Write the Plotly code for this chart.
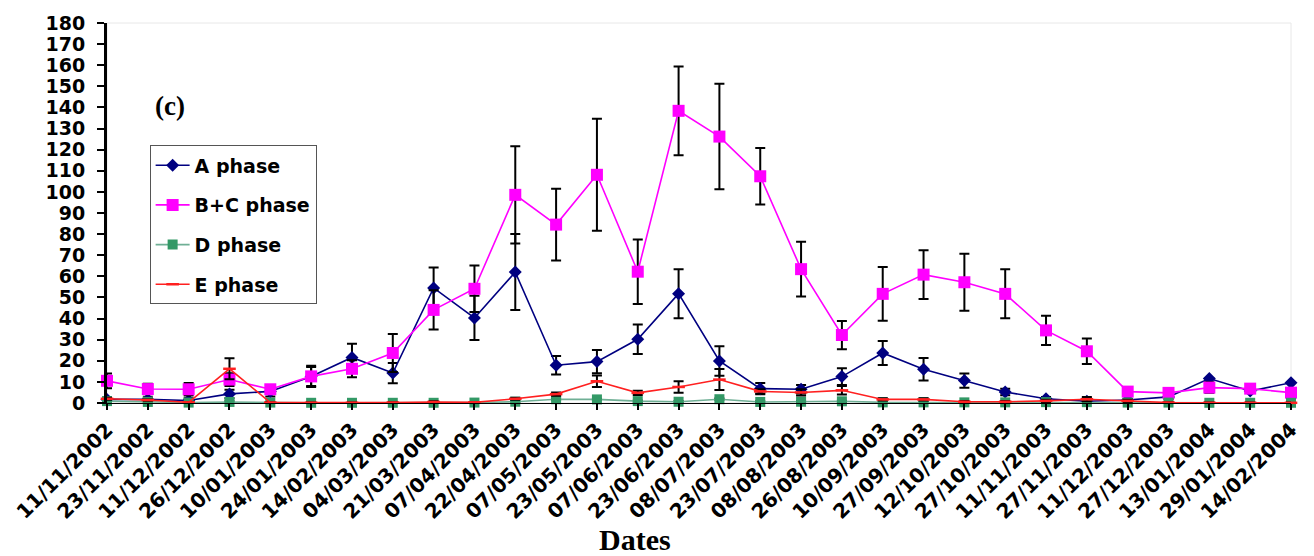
import plotly.graph_objects as go

dates = ["11/11/2002", "23/11/2002", "11/12/2002", "26/12/2002", "10/01/2003",
         "24/01/2003", "14/02/2003", "04/03/2003", "21/03/2003", "07/04/2003",
         "22/04/2003", "07/05/2003", "23/05/2003", "07/06/2003", "23/06/2003",
         "08/07/2003", "23/07/2003", "08/08/2003", "26/08/2003", "10/09/2003",
         "27/09/2003", "12/10/2003", "27/10/2003", "11/11/2003", "27/11/2003",
         "11/12/2003", "27/12/2003", "13/01/2004", "29/01/2004", "14/02/2004"]

a_phase = [1.7, 1.7, 1.2, 4.3, 5.5, 12.6, 21.6, 14.2, 54.5, 40.3,
           62.0, 17.9, 19.6, 30.2, 51.8, 19.9, 6.8, 6.5, 12.5, 23.7,
           16.0, 10.6, 5.2, 2.0, 0.8, 1.4, 2.9, 11.6, 5.7, 9.6]
a_err = [0.5, 1.0, 1.0, 2.0, 2.4, 5.0, 6.5, 4.8, 9.7, 10.5,
         18.0, 4.4, 5.5, 7.0, 11.6, 7.0, 2.7, 2.0, 4.0, 5.7,
         5.3, 3.4, 1.5, 0.8, 0.3, 0.5, 1.0, 0.0, 0.8, 0.0]

bc_phase = [10.5, 6.6, 6.5, 11.1, 6.5, 12.6, 16.2, 23.7, 44.1, 54.1,
            98.6, 84.5, 108.1, 62.2, 138.4, 126.2, 107.4, 63.4, 32.2, 51.7,
            60.8, 57.2, 51.7, 34.4, 24.5, 5.4, 4.8, 7.3, 6.8, 4.9]
bc_err = [3.5, 2.5, 3.0, 3.0, 1.5, 4.5, 4.0, 9.0, 9.3, 11.0,
          23.0, 17.0, 26.5, 15.3, 21.0, 25.0, 13.4, 13.0, 6.7, 12.7,
          11.5, 13.5, 11.6, 6.9, 6.0, 0.5, 0.5, 2.5, 0.5, 0.5]

d_phase = [0.9, 0.5, 0.2, 0.5, 0.2, 0.1, 0.1, 0.1, 0.1, 0.2,
           0.6, 1.8, 1.7, 0.9, 0.6, 1.8, 0.5, 0.6, 0.8, 0.3,
           0.3, 0.3, 0.3, 0.4, 0.4, 0.2, 0.2, 0.1, 0.1, 0.1]
d_err = [0.3] * 30

e_phase = [2.0, 1.4, 0.3, 16.2, 0.2, 0.1, 0.1, 0.2, 0.5, 0.3,
           2.0, 4.2, 10.3, 4.8, 7.6, 11.1, 5.5, 5.0, 6.0, 1.7,
           1.7, 0.6, 0.6, 1.0, 1.8, 1.0, 0.2, 0.1, 0.1, 0.1]
e_err = [0.5, 0.3, 0.2, 5.0, 0.2, 0.1, 0.1, 0.1, 0.3, 0.1,
         0.5, 0.8, 2.7, 1.0, 2.7, 5.0, 1.0, 1.5, 2.0, 0.5,
         0.5, 0.3, 0.3, 0.5, 1.0, 0.5, 0.1, 0.1, 0.1, 0.1]

y_ticks = list(range(0, 181, 10))

BOLD_SANS = "DejaVu Sans"


def err(vals):
    return dict(type="data", array=vals, visible=True, color="black",
                thickness=2, width=5)


fig = go.Figure()

fig.add_trace(go.Scatter(
    x=dates, y=a_phase, name="A phase", mode="lines+markers",
    line=dict(color="#000080", width=1.6),
    marker=dict(symbol="diamond", size=10, color="#000080"),
    error_y=err(a_err), cliponaxis=False, legendgroup="a"))

fig.add_trace(go.Scatter(
    x=dates, y=bc_phase, name="B+C phase", mode="lines+markers",
    line=dict(color="#FF00FF", width=1.6),
    marker=dict(symbol="square", size=12, color="#FF00FF"),
    error_y=err(bc_err), cliponaxis=False, legendgroup="bc"))

fig.add_trace(go.Scatter(
    x=dates, y=d_phase, name="D phase", mode="lines+markers",
    line=dict(color="#6FAF95", width=1.6),
    marker=dict(symbol="square", size=10, color="#339966"),
    error_y=err(d_err), cliponaxis=False, legendgroup="d"))

fig.add_trace(go.Scatter(
    x=dates, y=e_phase, name="E phase", mode="lines+markers",
    line=dict(color="#FF2020", width=1.6),
    marker=dict(symbol="line-ew-open", size=9,
                line=dict(color="#CC0000", width=2.5)),
    error_y=err(e_err), cliponaxis=False, legendgroup="e"))

fig.update_layout(
    width=1314, height=556,
    margin=dict(l=105, r=14, t=14, b=153),
    plot_bgcolor="white", paper_bgcolor="white",
    showlegend=True,
    legend=dict(
        x=0.036, y=0.678, xanchor="left", yanchor="top",
        bordercolor="#555555", borderwidth=1, bgcolor="white",
        font=dict(family=BOLD_SANS, size=19, color="black", weight="bold"),
        tracegroupgap=12, itemwidth=34, entrywidth=172,
    ),
    xaxis=dict(
        type="category", range=[0, len(dates) - 1],
        showline=True, linecolor="black", linewidth=1,
        ticks="outside", ticklen=6, tickwidth=1.5, tickcolor="black",
        tickangle=-45, showgrid=False, zeroline=False,
        tickfont=dict(family=BOLD_SANS, size=20, color="black", weight="bold"),
    ),
    yaxis=dict(
        range=[0, 180], tickvals=y_ticks,
        showline=True, linecolor="black", linewidth=3,
        ticks="outside", ticklen=7, tickwidth=1.5, tickcolor="black",
        ticklabelstandoff=8,
        showgrid=False, zeroline=False,
        tickfont=dict(family=BOLD_SANS, size=19, color="black", weight="bold"),
    ),
    shapes=[dict(type="rect", xref="paper", yref="paper", x0=0, x1=1, y0=0, y1=1,
                 line=dict(color="#E8E8E8", width=1), layer="below")],
    annotations=[
        dict(text="(c)", xref="paper", yref="paper", x=0.0536, y=0.781,
             showarrow=False, xanchor="center", yanchor="middle",
             font=dict(family="Liberation Serif", size=27, color="black", weight="bold")),
        dict(text="Dates", x=0.446, y=-0.36, xref="paper", yref="paper",
             showarrow=False, xanchor="center", yanchor="middle",
             font=dict(family="Liberation Serif", size=30, color="black", weight="bold")),
    ],
)

fig.write_html("out.html")
